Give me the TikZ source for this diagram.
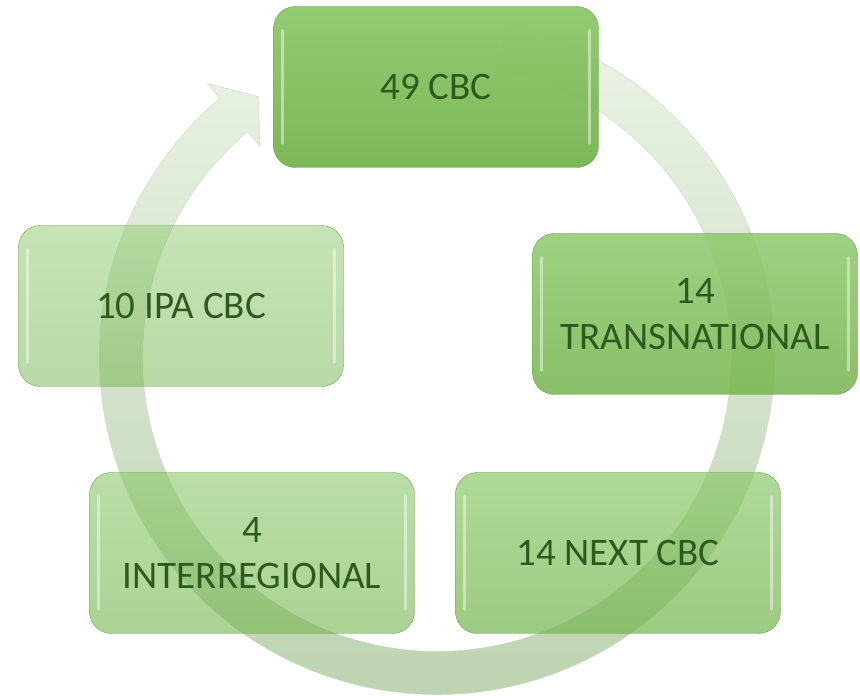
\documentclass[tikz,border=0pt]{standalone}
\usepackage{fontspec}
\setmainfont{Carlito}
\definecolor{boxtop}{HTML}{8DC96B}
\definecolor{boxbot}{HTML}{74B44E}
\definecolor{boxedge}{HTML}{6C9D50}
\definecolor{textgreen}{HTML}{2E5A1D}
\definecolor{ringtop}{HTML}{EBF3E6}
\definecolor{ringbot}{HTML}{BCD2AF}
\definecolor{ringedge}{HTML}{C6D8BB}
\tikzset{
  cyclebox/.style={draw=boxedge, rounded corners=22pt, minimum width=325pt, minimum height=161pt,
    top color=boxtop, bottom color=boxbot, text=textgreen, text opacity=1,
    font=\fontsize{39}{46}\selectfont, align=center,
    path picture={
      \draw[white, opacity=0.45, line width=3pt, line cap=round]
        ([xshift=9pt,yshift=24pt]path picture bounding box.south west)
        -- ([xshift=9pt,yshift=-24pt]path picture bounding box.north west);
      \draw[white, opacity=0.45, line width=3pt, line cap=round]
        ([xshift=-9pt,yshift=24pt]path picture bounding box.south east)
        -- ([xshift=-9pt,yshift=-24pt]path picture bounding box.north east);
    }}
}
\begin{document}
\begin{tikzpicture}[x=1pt,y=1pt]
\useasboundingbox (0,0) rectangle (860,696);
% ring arrow behind the boxes
\begin{scope}[shift={(437,339)}]
  \path[top color=ringtop, bottom color=ringbot, draw=ringedge]
    (78:337.5) arc[start angle=78, end angle=-230, radius=337.5]
    -- (130:357) -- (124.5:316) -- (130:275) -- (130:294.5)
    arc[start angle=-230, end angle=78, radius=294.5] -- cycle;
\end{scope}
% the five blocks
\node[cyclebox, fill opacity=0.95] (cbc) at (436,609) {49 CBC};
\node[cyclebox, fill opacity=0.85] (trans) at (695,382) {14\\TRANSNATIONAL};
\node[cyclebox, fill opacity=0.7] (next) at (618,143) {14 NEXT CBC};
\node[cyclebox, fill opacity=0.6] (inter) at (252,143) {4\\INTERREGIONAL};
\node[cyclebox, fill opacity=0.5] (ipa) at (181,390) {10 IPA CBC};
\end{tikzpicture}
\end{document}
